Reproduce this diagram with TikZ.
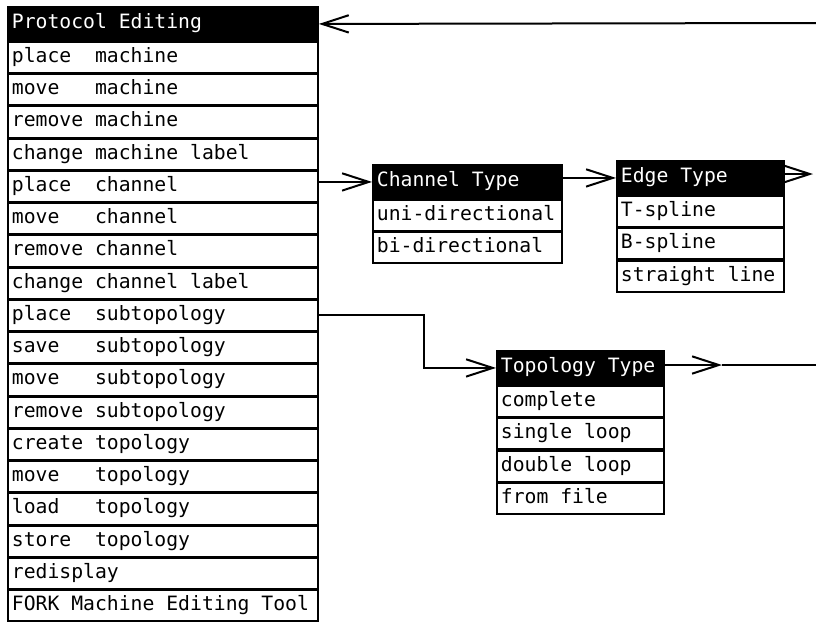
\documentclass[tikz,border=0pt]{standalone}
\usepackage{fontspec}
\setmonofont{DejaVu Sans Mono}
\usetikzlibrary{arrows.meta,calc}
\newcommand{\colgap}[1]{\hphantom{#1}}
\begin{document}
\begin{tikzpicture}[x=0.75pt,y=-0.75pt,
  menubase/.style={draw=black, line width=1.4pt, anchor=north west,
    inner xsep=3pt, inner ysep=0pt, text height=11pt, text depth=3.5pt,
    align=left, font=\ttfamily\fontsize{14.8}{16}\selectfont},
  menuhead/.style={menubase, fill=black, text=white, minimum height=25.5pt},
  menuitem/.style={menubase, fill=white, text=black, minimum height=23.25pt},
  link/.style={line width=1.5pt},
  arr/.style={link, -{Straight Barb[length=20pt,width=13pt,line width=1.5pt]}}
]
\fill[white] (0,0) rectangle (816,622);
\useasboundingbox (0,0) rectangle (816,622);

% main menu
\node[menuhead, text width=226.5pt] (pe) at (7,6) {Protocol\colgap{x}Editing};
\foreach \t [count=\i from 0] in {
  {place\colgap{xx}machine}, {move\colgap{xxx}machine}, {remove\colgap{x}machine}, {change\colgap{x}machine\colgap{x}label},
  {place\colgap{xx}channel}, {move\colgap{xxx}channel}, {remove\colgap{x}channel}, {change\colgap{x}channel\colgap{x}label},
  {place\colgap{xx}subtopology}, {save\colgap{xxx}subtopology}, {move\colgap{xxx}subtopology}, {remove\colgap{x}subtopology},
  {create\colgap{x}topology}, {move\colgap{xxx}topology}, {load\colgap{xxx}topology}, {store\colgap{xx}topology},
  {redisplay}, {FORK\colgap{x}Machine\colgap{x}Editing\colgap{x}Tool}}
  \node[menuitem, text width=226.5pt] (m\i) at (7,{41+32.25*\i}) {\t};

% channel type
\node[menuhead, text width=135.75pt] (ct) at (372,164) {Channel\colgap{x}Type};
\foreach \t [count=\i from 0] in {uni-directional, bi-directional}
  \node[menuitem, text width=135.75pt] (c\i) at (372,{199+32.4*\i}) {\t};

% edge type
\node[menuhead, text width=119.25pt] (et) at (616,160) {Edge\colgap{x}Type};
\foreach \t [count=\i from 0] in {T-spline, B-spline, {straight\colgap{x}line}}
  \node[menuitem, text width=119.25pt] (e\i) at (616,{195+32.4*\i}) {\t};

% topology type
\node[menuhead, text width=119.25pt] (tt) at (496,350) {Topology\colgap{x}Type};
\foreach \t [count=\i from 0] in {complete, {single\colgap{x}loop}, {double\colgap{x}loop}, {from\colgap{x}file}}
  \node[menuitem, text width=119.25pt] (t\i) at (496,{385+32.4*\i}) {\t};

% connectors
\coordinate (topright) at (816,23);
\coordinate (edgeend) at (813,174);
\coordinate (tmid) at (722,365);
\coordinate (tend) at (816,365);

\draw[arr] (topright) -- (pe.east);
\draw[arr] (m4.east |- ct.west) -- (ct.west);
\draw[arr] (ct.east |- et.west) -- (et.west);
\draw[arr] (et.east |- edgeend) -- (edgeend);
\draw[arr] (m8.east) -- ++(105,0) |- (tt.west);
\draw[arr] (tt.east |- tmid) -- (tmid);
\draw[link] (tmid) -- (tend);
\end{tikzpicture}
\end{document}
